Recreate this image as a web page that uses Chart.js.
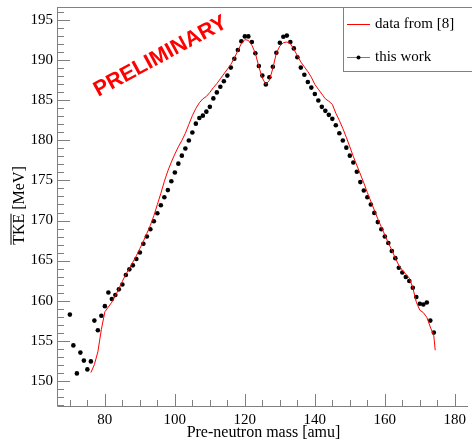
<!DOCTYPE html>
<html>
<head>
<meta charset="utf-8">
<script src="https://cdn.jsdelivr.net/npm/chart.js@4"></script>
<style>
  html, body { margin: 0; padding: 0; background: #fff; }
  #tkeChart { display: block; }
</style>
</head>
<body>
<canvas id="tkeChart" width="472" height="440"></canvas>
<script>
// this work: mean TKE per pre-neutron mass
const workMass = [70, 71, 72, 73, 74, 75, 76, 77, 78, 79, 80, 81, 82, 83, 84, 85, 86, 87, 88, 89,
  90, 91, 92, 93, 94, 95, 96, 97, 98, 99, 100, 101, 102, 103, 104, 105, 106, 107, 108, 109,
  110, 111, 112, 113, 114, 115, 116, 117, 118, 119, 120, 121, 122, 123, 124, 125, 126, 127, 128, 129,
  130, 131, 132, 133, 134, 135, 136, 137, 138, 139, 140, 141, 142, 143, 144, 145, 146, 147, 148, 149,
  150, 151, 152, 153, 154, 155, 156, 157, 158, 159, 160, 161, 162, 163, 164, 165, 166, 167, 168, 169,
  170, 171, 172, 173, 174];
const workTke = [158.25, 154.4, 150.9, 153.5, 152.5, 151.4, 152.4, 157.5, 156.3, 158.1, 159.3, 161.0, 160.2, 160.7, 161.4, 162.0, 163.2, 163.9, 164.4, 165.2,
  166.0, 167.1, 168.0, 168.9, 169.9, 170.9, 171.9, 172.9, 173.8, 174.9, 176.0, 177.1, 178.1, 179.0, 180.0, 181.0, 182.1, 182.8, 183.1, 183.6,
  184.2, 185.25, 186.0, 186.7, 187.4, 188.1, 189.1, 190.2, 191.3, 192.4, 193.0, 193.0, 192.3, 190.9, 189.3, 188.1, 187.0, 187.9, 189.2, 190.95,
  192.2, 192.95, 193.1, 192.3, 191.5, 190.4, 189.1, 188.2, 187.3, 186.6, 185.8, 185.0, 184.2, 183.7, 183.2, 182.7, 181.9, 180.9, 180.0, 179.1,
  178.1, 177.25, 176.1, 174.8, 173.75, 172.9, 172.0, 170.95, 169.8, 168.9, 168.0, 167.2, 166.2, 165.3, 164.1, 163.5, 162.95, 162.45, 161.6, 160.45,
  159.6, 159.5, 159.75, 157.5, 156.0];

// data from [8]
const litMass = [76, 77, 78, 79, 80, 81, 82, 83, 84, 85, 86, 87, 88, 89, 90, 91, 92, 93, 94, 95,
  96, 97, 98, 99, 100, 101, 102, 103, 104, 105, 106, 107, 108, 109, 110, 111, 112, 113, 114, 115,
  116, 117, 118, 119, 120, 121, 122, 123, 124, 125, 126, 127, 128, 129, 130, 131, 132, 133, 134, 135,
  136, 137, 138, 139, 140, 141, 142, 143, 144, 145, 146, 147, 148, 149, 150, 151, 152, 153, 154, 155,
  156, 157, 158, 159, 160, 161, 162, 163, 164, 165, 166, 167, 168, 169, 170, 171, 172, 173, 174, 174.4];
const litTke = [151.0, 152.0, 153.6, 156.4, 158.6, 159.2, 159.8, 160.6, 161.5, 162.4, 163.3, 164.0, 164.8, 165.6, 166.5, 167.4, 168.4, 169.4, 170.6, 172.0,
  173.4, 174.9, 176.2, 177.3, 178.3, 179.2, 180.0, 180.9, 182.0, 183.1, 184.0, 184.7, 185.2, 185.5, 186.0, 186.6, 187.1, 187.7, 188.3, 188.9,
  189.5, 190.3, 191.2, 192.1, 192.6, 192.5, 191.9, 190.9, 189.2, 187.8, 187.0, 187.5, 189.0, 190.9, 191.8, 192.2, 192.3, 192.1, 191.4, 190.6,
  189.8, 189.2, 188.6, 187.9, 187.0, 186.4, 185.8, 185.2, 184.9, 184.5, 183.4, 182.5, 181.5, 180.4, 179.2, 178.0, 176.9, 175.8, 174.7, 173.5,
  172.4, 171.3, 170.2, 169.2, 168.2, 167.2, 166.3, 165.3, 164.4, 163.8, 163.3, 162.8, 161.6, 159.8, 158.8, 158.5, 157.9, 156.7, 155.6, 153.8];

const xTicks = [80, 100, 120, 140, 160, 180];
const yTicks = [150, 155, 160, 165, 170, 175, 180, 185, 190, 195];
const xMin = 66.32, xMax = 183.77;
const yMin = 146.83, yMax = 196.67;

const axisColor = '#808080';
const serif = '"Liberation Serif", "DejaVu Serif", serif';

// ROOT-style frame: ticks inside, minor ticks, titles, legend and watermark
const rootFrame = {
  id: 'rootFrame',
  afterDraw(chart) {
    const ctx = chart.ctx;
    const xs = chart.scales.x, ys = chart.scales.y;
    const a = chart.chartArea;
    ctx.save();
    ctx.strokeStyle = axisColor;
    ctx.lineWidth = 1;
    ctx.beginPath();
    // frame: left, bottom, top
    ctx.moveTo(a.left + 0.5, a.top + 0.5);
    ctx.lineTo(a.left + 0.5, a.bottom + 0.5);
    ctx.lineTo(a.right, a.bottom + 0.5);
    ctx.moveTo(a.left, a.top + 0.5);
    ctx.lineTo(a.right, a.top + 0.5);
    // y ticks every 1 MeV, major every 5
    for (let v = Math.ceil(yMin); v <= yMax; v++) {
      const py = Math.round(ys.getPixelForValue(v)) + 0.5;
      const len = yTicks.includes(v) ? 13 : 7;
      ctx.moveTo(a.left, py);
      ctx.lineTo(a.left + len, py);
    }
    // x ticks every 5 amu, major every 20
    for (let v = 70; v <= xMax; v += 5) {
      const px = Math.round(xs.getPixelForValue(v)) + 0.5;
      const len = xTicks.includes(v) ? 12 : 6;
      ctx.moveTo(px, a.bottom);
      ctx.lineTo(px, a.bottom - len);
    }
    ctx.stroke();

    // axis titles
    ctx.fillStyle = '#000';
    ctx.font = '16px ' + serif;
    ctx.textAlign = 'center';
    ctx.textBaseline = 'middle';
    ctx.fillText('Pre-neutron mass [amu]', (a.left + a.right) / 2 + 1, 433);

    ctx.save();
    ctx.translate(23.5, (a.top + a.bottom) / 2 - 1);
    ctx.rotate(-Math.PI / 2);
    const full = 'TKE [MeV]';
    const w = ctx.measureText(full).width;
    const wT = ctx.measureText('TKE').width;
    ctx.textAlign = 'left';
    ctx.textBaseline = 'alphabetic';
    ctx.fillText(full, -w / 2, 0);
    ctx.strokeStyle = '#000';
    ctx.beginPath();
    ctx.moveTo(-w / 2, -12.5);
    ctx.lineTo(-w / 2 + wT, -12.5);
    ctx.stroke();
    ctx.restore();

    // legend
    const lx = 343.5, ly = 7.5, lw = 140, lh = 64;
    ctx.fillStyle = '#fff';
    ctx.fillRect(lx, ly, lw, lh);
    ctx.strokeStyle = axisColor;
    ctx.strokeRect(lx, ly, lw, lh);
    ctx.strokeStyle = '#ff0000';
    ctx.beginPath();
    ctx.moveTo(347, 24.5);
    ctx.lineTo(370, 24.5);
    ctx.stroke();
    ctx.strokeStyle = '#6b6bff';
    ctx.beginPath();
    ctx.moveTo(347, 57.5);
    ctx.lineTo(370, 57.5);
    ctx.stroke();
    ctx.fillStyle = '#000';
    ctx.beginPath();
    ctx.arc(358.5, 57.5, 2, 0, Math.PI * 2);
    ctx.fill();
    ctx.font = '15px ' + serif;
    ctx.textAlign = 'left';
    ctx.textBaseline = 'middle';
    ctx.fillText('data from [8]', 375, 24);
    ctx.fillText('this work', 375, 57);

    // watermark
    ctx.save();
    ctx.translate(160.5, 56.5);
    ctx.rotate(-28.4 * Math.PI / 180);
    ctx.fillStyle = '#ff0000';
    ctx.font = 'bold 21.6px "Liberation Sans", Arial, sans-serif';
    ctx.textAlign = 'center';
    ctx.textBaseline = 'middle';
    ctx.fillText('PRELIMINARY', 0, 0);
    ctx.restore();

    ctx.restore();
  }
};

new Chart(document.getElementById('tkeChart').getContext('2d'), {
  type: 'scatter',
  data: {
    datasets: [
      {
        label: 'data from [8]',
        data: litMass.map((m, i) => ({ x: m, y: litTke[i] })),
        showLine: true,
        borderColor: '#ff0000',
        borderWidth: 1,
        pointRadius: 0,
        tension: 0
      },
      {
        label: 'this work',
        data: workMass.map((m, i) => ({ x: m, y: workTke[i] })),
        showLine: false,
        backgroundColor: '#000',
        borderWidth: 0,
        pointRadius: 2.3
      }
    ]
  },
  options: {
    responsive: false,
    animation: false,
    devicePixelRatio: 1,
    layout: { padding: { left: 0, top: 7, right: 0, bottom: 0 } },
    plugins: {
      legend: { display: false },
      tooltip: { enabled: false }
    },
    scales: {
      x: {
        type: 'linear',
        min: xMin,
        max: xMax,
        afterBuildTicks: (scale) => { scale.ticks = xTicks.map(v => ({ value: v })); },
        afterFit: (scale) => { scale.height = 34; scale.paddingLeft = 0; scale.paddingRight = 0; },
        grid: { display: false, drawTicks: false },
        border: { display: false },
        ticks: {
          font: { family: serif, size: 15 },
          color: '#000',
          padding: 5,
          maxRotation: 0
        }
      },
      y: {
        type: 'linear',
        min: yMin,
        max: yMax,
        afterBuildTicks: (scale) => { scale.ticks = yTicks.map(v => ({ value: v })); },
        afterFit: (scale) => { scale.width = 57; scale.paddingTop = 0; scale.paddingBottom = 0; },
        grid: { display: false, drawTicks: false },
        border: { display: false },
        ticks: {
          font: { family: serif, size: 15 },
          color: '#000',
          padding: 4
        }
      }
    }
  },
  plugins: [rootFrame]
});
</script>
</body>
</html>
